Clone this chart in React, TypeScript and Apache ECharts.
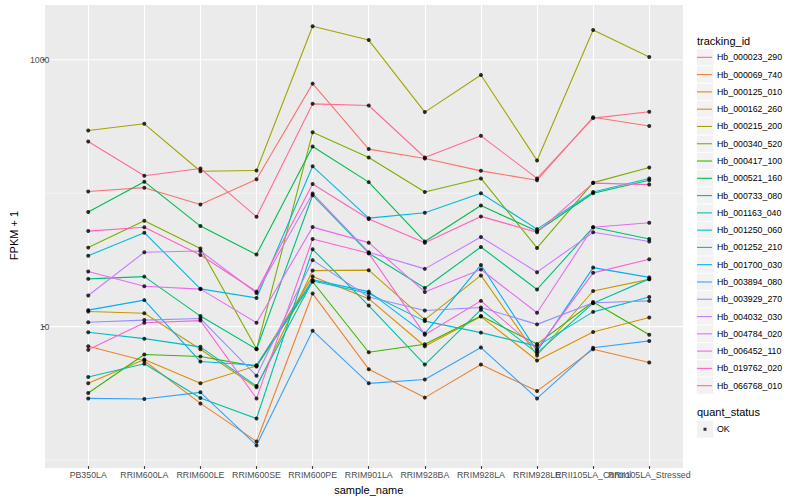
import React, { useEffect, useRef } from "react";
import * as echarts from "echarts";

const categories = [
  "PB350LA", "RRIM600LA", "RRIM600LE", "RRIM600SE", "RRIM600PE", "RRIM901LA",
  "RRIM928BA", "RRIM928LA", "RRIM928LE", "RRII105LA_Control", "RRII105LA_Stressed",
];

const trackingIds = [
  "Hb_000023_290", "Hb_000069_740", "Hb_000125_010", "Hb_000162_260", "Hb_000215_200",
  "Hb_000340_520", "Hb_000417_100", "Hb_000521_160", "Hb_000733_080", "Hb_001163_040",
  "Hb_001250_060", "Hb_001252_210", "Hb_001700_030", "Hb_003894_080", "Hb_003929_270",
  "Hb_004032_030", "Hb_004784_020", "Hb_006452_110", "Hb_019762_020", "Hb_066768_010",
];

const colors = [
  "#F8766D", "#EA8331", "#D89000", "#C09B00", "#A3A500", "#7CAE00", "#39B600",
  "#00BB4E", "#00BF7D", "#00C1A3", "#00BFC4", "#00BAE0", "#00B0F6", "#35A2FF",
  "#9590FF", "#C77CFF", "#E76BF3", "#FA62DB", "#FF62BC", "#FF6C91",
];

const Hb_000023_290 = [103, 110, 82.4, 127, 662, 214, 182, 147, 125, 371, 319];
const Hb_000069_740 = [7.13, 5.55, 2.66, 1.38, 17.7, 4.8, 2.94, 5.2, 3.29, 6.77, 5.39];
const Hb_000125_010 = [3.76, 5.67, 3.77, 5.09, 23.8, 16.2, 7.13, 11.9, 5.58, 9.12, 11.7];
const Hb_000162_260 = [13.0, 12.6, 6.77, 3.51, 26.3, 26.5, 11.3, 24.2, 6.08, 18.5, 22.6];
const Hb_000215_200 = [295, 331, 146, 148, 1783, 1403, 405, 769, 176, 1667, 1047];
const Hb_000340_520 = [39.1, 62.1, 38.5, 6.82, 286, 185, 102, 129, 38.9, 120, 156];
const Hb_000417_100 = [3.18, 6.18, 5.97, 5.03, 21.7, 6.43, 7.38, 12.0, 7.4, 15.3, 8.71];
const Hb_000521_160 = [72.4, 122, 56.7, 34.7, 224, 121, 43.4, 80.9, 51.8, 100, 125];
const Hb_000733_080 = [22.8, 23.7, 12.0, 6.77, 96.6, 35.5, 19.5, 39.5, 19.0, 55.5, 45.4];
const Hb_001163_040 = [4.19, 5.27, 2.92, 2.05, 38.0, 14.4, 5.2, 13.4, 6.34, 15.0, 22.8];
const Hb_001250_060 = [9.07, 8.13, 7.06, 3.59, 22.0, 17.7, 11.0, 9.02, 7.15, 12.9, 16.7];
const Hb_001252_210 = [34.0, 50.6, 19.2, 16.4, 159, 65.0, 71.3, 100, 53.8, 102, 129];
const Hb_001700_030 = [13.3, 15.8, 5.48, 5.14, 22.4, 18.3, 8.87, 29.0, 6.56, 27.7, 23.4];
const Hb_003894_080 = [2.9, 2.87, 3.22, 1.29, 9.33, 3.76, 4.02, 6.97, 2.9, 6.94, 7.82];
const Hb_003929_270 = [10.8, 11.2, 11.5, 4.29, 31.5, 16.7, 13.2, 13.9, 10.4, 15.1, 15.6];
const Hb_004032_030 = [17.1, 36.1, 36.9, 17.9, 99.5, 36.1, 27.1, 47.0, 25.6, 50.9, 43.5];
const Hb_004784_020 = [25.9, 20.1, 19.1, 10.7, 55.7, 42.6, 18.2, 26.8, 12.7, 55.5, 60.0];
const Hb_006452_110 = [6.7, 10.7, 11.1, 2.9, 45.4, 35.5, 8.71, 15.6, 6.79, 25.3, 32.0];
const Hb_019762_020 = [52.0, 55.5, 34.4, 18.3, 117, 64, 42.6, 67.0, 50.9, 119, 116];
const Hb_066768_010 = [244, 135, 153, 66.5, 467, 454, 185, 269, 129, 365, 407];

const seriesValues = [
  Hb_000023_290, Hb_000069_740, Hb_000125_010, Hb_000162_260, Hb_000215_200,
  Hb_000340_520, Hb_000417_100, Hb_000521_160, Hb_000733_080, Hb_001163_040,
  Hb_001250_060, Hb_001252_210, Hb_001700_030, Hb_003894_080, Hb_003929_270,
  Hb_004032_030, Hb_004784_020, Hb_006452_110, Hb_019762_020, Hb_066768_010,
];

const yTickLabels = [10, 1000];
const yMajorGrid = [10, 1000];
const yMinorGrid = [1, 100];
const quantStatus = ["OK"];

const FONT = "'Liberation Sans', Arial, Helvetica, sans-serif";
const KEY = 17.28;

// panel (ggplot) edges; the category grid is inset by 0.1 band on each side
const PANEL_L = 45;
const PANEL_R = 683;
const PANEL_T = 5;
const PANEL_B = 468;
const INSET = 5.7;

export default function App() {
  const ref = useRef<HTMLDivElement>(null);

  useEffect(() => {
    const chart = echarts.init(ref.current!, null, { renderer: "svg" });

    const vGrid: any[] = categories.map((c) => ({
      xAxis: c,
      lineStyle: { color: "#FFFFFF", width: 1.1, type: "solid" },
    }));

    const lineSeries = trackingIds.map((id, k) => {
      const s: any = {
        name: id,
        type: "line",
        data: seriesValues[k],
        symbol: "none",
        showSymbol: false,
        lineStyle: { color: colors[k], width: 1.1 },
        itemStyle: { color: colors[k] },
        z: 2,
        silent: true,
      };
      if (k === 0) {
        s.markLine = {
          silent: true,
          symbol: ["none", "none"],
          label: { show: false },
          z: 1,
          animation: false,
          data: vGrid,
        };
      }
      return s;
    });

    const points: any[] = [];
    seriesValues.forEach((vals) => vals.forEach((v, i) => points.push([i, v])));

    const legendText = {
      color: "#000000",
      fontSize: 8.8,
      fontFamily: FONT,
      lineHeight: KEY,
      height: KEY,
      verticalAlign: "middle",
    };

    const gridLeft = PANEL_L + INSET;
    const gridRight = 800 - (PANEL_R - INSET);

    const option: any = {
      animation: false,
      backgroundColor: "#FFFFFF",
      grid: {
        left: gridLeft, right: gridRight, top: PANEL_T, bottom: 500 - PANEL_B,
        show: false,
      },
      xAxis: {
        type: "category",
        data: categories,
        boundaryGap: true,
        name: "sample_name",
        nameLocation: "middle",
        nameGap: 14,
        nameTextStyle: { color: "#000000", fontSize: 11, fontFamily: FONT },
        axisLine: { show: false },
        axisTick: {
          show: true,
          alignWithLabel: true,
          interval: 0,
          length: 2.75,
          lineStyle: { color: "#333333", width: 1.1 },
        },
        axisLabel: {
          interval: 0,
          color: "#4D4D4D",
          fontSize: 8.8,
          fontFamily: FONT,
          margin: 4,
        },
        splitLine: { show: false },
      },
      yAxis: {
        type: "log",
        logBase: 10,
        min: 0.902,
        max: 2570,
        name: "FPKM + 1",
        nameLocation: "middle",
        nameGap: 28 + INSET,
        nameRotate: 90,
        nameTextStyle: { color: "#000000", fontSize: 11, fontFamily: FONT },
        axisLine: { show: false },
        axisTick: { show: false },
        axisLabel: {
          formatter: (v: number) => {
            const l = Math.log10(v);
            for (const t of yTickLabels) {
              if (Math.abs(l - Math.log10(t)) < 1e-6) return String(t);
            }
            return "";
          },
          color: "#4D4D4D",
          fontSize: 8.8,
          fontFamily: FONT,
          margin: 5 + INSET,
        },
        splitLine: { show: false },
      },
      legend: [
        {
          data: trackingIds,
          orient: "vertical",
          left: 697,
          top: 48.7,
          padding: 0,
          itemGap: 0,
          itemWidth: 15,
          itemHeight: KEY,
          icon: "path://M0,0H15V1.1H0Z",
          itemStyle: { borderWidth: 0 },
          textStyle: legendText,
          selectedMode: false,
        },
        {
          data: quantStatus,
          orient: "vertical",
          left: 697,
          top: 420.7,
          padding: 0,
          itemGap: 0,
          itemWidth: 15,
          itemHeight: KEY,
          icon: "path://M0,0h0.01v0.01z M15,17h-0.01v-0.01z M6.5,7h3v3h-3z",
          itemStyle: { borderWidth: 0 },
          textStyle: legendText,
          selectedMode: false,
        },
      ],
      series: [
        ...lineSeries,
        {
          name: quantStatus[0],
          type: "scatter",
          data: points,
          symbol: "circle",
          symbolSize: 4,
          itemStyle: { color: "#000000", borderWidth: 0 },
          z: 3,
          silent: true,
        },
      ],
    };

    chart.setOption(option);

    const graphics: any[] = [];
    // panel background
    graphics.push({
      type: "rect",
      shape: { x: PANEL_L, y: PANEL_T, width: PANEL_R - PANEL_L, height: PANEL_B - PANEL_T },
      style: { fill: "#EBEBEB" },
      z: -10,
      silent: true,
    });
    // horizontal grid lines across the whole panel, placed with the y scale
    yMinorGrid.forEach((v) => {
      const py = chart.convertToPixel({ yAxisIndex: 0 }, v) as number;
      graphics.push({
        type: "line",
        shape: { x1: PANEL_L, y1: py, x2: PANEL_R, y2: py },
        style: { stroke: "#FFFFFF", lineWidth: 0.55 },
        z: -5,
        silent: true,
      });
    });
    yMajorGrid.forEach((v) => {
      const py = chart.convertToPixel({ yAxisIndex: 0 }, v) as number;
      graphics.push({
        type: "line",
        shape: { x1: PANEL_L, y1: py, x2: PANEL_R, y2: py },
        style: { stroke: "#FFFFFF", lineWidth: 1.1 },
        z: -5,
        silent: true,
      });
    });
    // y ticks
    yTickLabels.forEach((t) => {
      const py = chart.convertToPixel({ yAxisIndex: 0 }, t) as number;
      graphics.push({
        type: "line",
        shape: { x1: PANEL_L - 2.75, y1: py, x2: PANEL_L, y2: py },
        style: { stroke: "#333333", lineWidth: 1.1 },
        z: 1,
        silent: true,
      });
    });
    // legend keys
    trackingIds.forEach((_, i) => {
      graphics.push({
        type: "rect",
        shape: { x: 696.5, y: 48.7 + i * KEY, width: KEY, height: KEY },
        style: { fill: "#F2F2F2", stroke: "#FFFFFF", lineWidth: 0.8 },
        z: 0,
        silent: true,
      });
    });
    graphics.push({
      type: "rect",
      shape: { x: 696.5, y: 420.7, width: KEY, height: KEY },
      style: { fill: "#F2F2F2", stroke: "#FFFFFF", lineWidth: 0.8 },
      z: 0,
      silent: true,
    });
    graphics.push({
      type: "text",
      x: 697,
      y: 40.7,
      style: { text: "tracking_id", fill: "#000000", fontSize: 11, fontFamily: FONT, verticalAlign: "middle" },
      z: 1,
    });
    graphics.push({
      type: "text",
      x: 697,
      y: 412.3,
      style: { text: "quant_status", fill: "#000000", fontSize: 11, fontFamily: FONT, verticalAlign: "middle" },
      z: 1,
    });
    chart.setOption({ graphic: graphics });

    return () => chart.dispose();
  }, []);

  return (
    <div
      ref={ref}
      style={{ position: "fixed", left: 0, top: 0, width: 800, height: 500, background: "#FFFFFF" }}
    />
  );
}
